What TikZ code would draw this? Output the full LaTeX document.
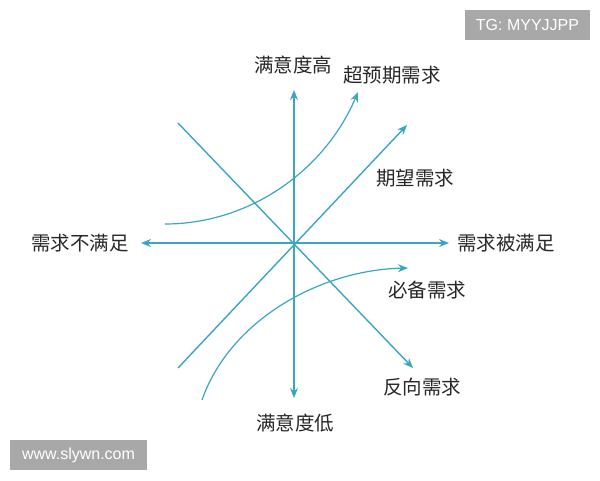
\documentclass[tikz,border=0pt]{standalone}
\usepackage{fontspec}
\newfontfamily\cjk{Noto Sans CJK SC}
\setmainfont{Liberation Sans}
\usetikzlibrary{arrows.meta}
\definecolor{lineblue}{RGB}{58,166,194}
\definecolor{wmgray}{RGB}{168,168,168}
\definecolor{txt}{RGB}{40,40,40}
\tikzset{
  axis/.style={draw=lineblue, line width=1.4pt, -{Stealth[length=10pt,width=8pt]}},
  curveline/.style={draw=lineblue, line width=1.2pt, -{Stealth[length=10pt,width=8pt]}},
  lab/.style={font=\cjk\fontsize{19.5}{21}\selectfont, text=txt, inner sep=0pt},
  wm/.style={fill=wmgray, text=white, font=\fontsize{16}{18}\selectfont, inner sep=0pt, anchor=center}
}
\begin{document}
\begin{tikzpicture}[x=1pt,y=-1pt]
\useasboundingbox (0,0) rectangle (600,480);
\fill[white] (0,0) rectangle (600,480);
% coordinates
\coordinate (O) at (294,243);
\coordinate (top) at (294,90);
\coordinate (bot) at (294,398);
\coordinate (left) at (141,243);
\coordinate (right) at (449,243);
\coordinate (revS) at (178,123);
\coordinate (revE) at (413,368);
\coordinate (expS) at (178,368);
\coordinate (expE) at (407,125);
\coordinate (exS) at (165,224);
\coordinate (exE) at (358,92);
\coordinate (mbS) at (202,400);
\coordinate (mbE) at (408,268);
% axes
\draw[axis] (O) -- (top);
\draw[axis] (O) -- (bot);
\draw[axis] (O) -- (left);
\draw[axis] (O) -- (right);
% lines
\draw[axis] (revS) -- (revE);
\draw[axis] (expS) -- (expE);
\draw[curveline] (exS) .. controls (250,224) and (325,170) .. (exE);
\draw[curveline] (mbS) .. controls (230,320) and (320,270) .. (mbE);
% labels
\node[lab] (hi) at (293,65) {满意度高};
\node[lab] (lo) at (295,423) {满意度低};
\node[lab] (ex) at (392,75) {超预期需求};
\node[lab] (exp) at (415,178) {期望需求};
\node[lab] (sat) at (506,243) {需求被满足};
\node[lab] (unsat) at (80,243) {需求不满足};
\node[lab] (must) at (427,290) {必备需求};
\node[lab] (rev) at (422,387) {反向需求};
% watermarks
\node[wm, minimum width=125pt, minimum height=30pt] (tg) at (527.5,25) {TG: MYYJJPP};
\node[wm, minimum width=137pt, minimum height=30pt] (www) at (78.5,455) {www.slywn.com};
\end{tikzpicture}
\end{document}
